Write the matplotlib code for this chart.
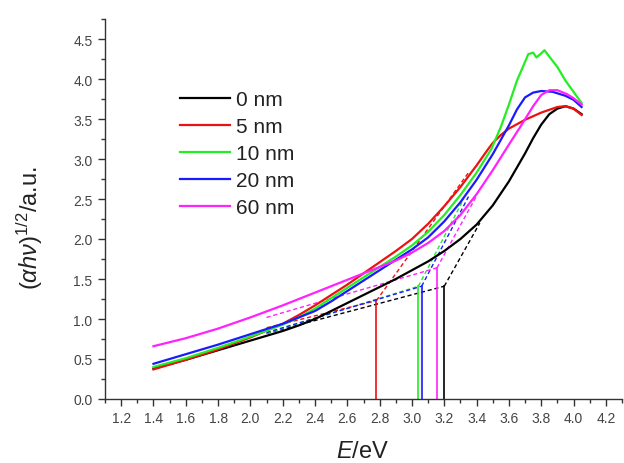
import numpy as np
import matplotlib
matplotlib.use("Agg")
import matplotlib.pyplot as plt
from matplotlib.ticker import MultipleLocator

plt.rcParams['font.family'] = ['Liberation Sans', 'DejaVu Sans']
plt.rcParams['mathtext.fontset'] = 'custom'
plt.rcParams['mathtext.rm'] = 'Liberation Sans'
plt.rcParams['mathtext.it'] = 'Liberation Sans:italic'
plt.rcParams['mathtext.bf'] = 'Liberation Sans:bold'

# ---------------- data ----------------
labels = ["0 nm", "5 nm", "10 nm", "20 nm", "60 nm"]
colors = ["#000000", "#ee1111", "#22ee22", "#1a1aff", "#ff22ff"]

E_black = [1.4, 1.6, 1.8, 2.0, 2.2, 2.3, 2.4, 2.5, 2.6, 2.7, 2.8, 2.9, 3.0, 3.1, 3.2, 3.3, 3.4, 3.5, 3.6, 3.7, 3.75, 3.8, 3.85, 3.9, 3.95, 4.0, 4.05]
y_black = [0.38, 0.49, 0.61, 0.73, 0.85, 0.92, 1.00, 1.10, 1.20, 1.30, 1.40, 1.50, 1.61, 1.72, 1.85, 2.00, 2.18, 2.42, 2.72, 3.07, 3.26, 3.43, 3.56, 3.63, 3.66, 3.63, 3.56]

E_red = [1.4, 1.6, 1.8, 2.0, 2.2, 2.3, 2.4, 2.5, 2.6, 2.7, 2.8, 2.9, 3.0, 3.1, 3.2, 3.3, 3.4, 3.47, 3.5, 3.55, 3.6, 3.7, 3.8, 3.9, 3.95, 4.0, 4.05]
y_red = [0.37, 0.49, 0.62, 0.77, 0.94, 1.05, 1.17, 1.30, 1.43, 1.57, 1.71, 1.85, 2.00, 2.19, 2.41, 2.65, 2.92, 3.12, 3.20, 3.30, 3.38, 3.49, 3.58, 3.65, 3.66, 3.63, 3.55]

E_green = [1.4, 1.6, 1.8, 2.0, 2.2, 2.3, 2.4, 2.5, 2.6, 2.7, 2.8, 2.9, 3.0, 3.1, 3.2, 3.3, 3.4, 3.49, 3.55, 3.6, 3.65, 3.68, 3.72, 3.75, 3.77, 3.80, 3.82, 3.85, 3.9, 3.95, 4.0, 4.05]
y_green = [0.40, 0.51, 0.64, 0.78, 0.93, 1.02, 1.13, 1.26, 1.39, 1.52, 1.65, 1.78, 1.92, 2.09, 2.30, 2.55, 2.83, 3.12, 3.40, 3.68, 3.98, 4.12, 4.31, 4.33, 4.27, 4.32, 4.36, 4.28, 4.15, 3.98, 3.84, 3.70]

E_blue = [1.4, 1.6, 1.8, 2.0, 2.2, 2.3, 2.4, 2.5, 2.6, 2.7, 2.8, 2.9, 3.0, 3.1, 3.2, 3.3, 3.4, 3.5, 3.6, 3.65, 3.7, 3.75, 3.8, 3.87, 3.95, 4.0, 4.05]
y_blue = [0.44, 0.56, 0.68, 0.81, 0.94, 1.02, 1.10, 1.22, 1.35, 1.48, 1.61, 1.74, 1.87, 2.02, 2.22, 2.46, 2.74, 3.06, 3.42, 3.62, 3.77, 3.83, 3.85, 3.84, 3.79, 3.74, 3.65]

E_mag = [1.4, 1.6, 1.8, 2.0, 2.2, 2.3, 2.4, 2.5, 2.6, 2.7, 2.8, 2.9, 3.0, 3.1, 3.2, 3.3, 3.4, 3.5, 3.6, 3.67, 3.75, 3.8, 3.85, 3.9, 3.96, 4.0, 4.05]
y_mag = [0.66, 0.76, 0.88, 1.02, 1.17, 1.25, 1.33, 1.41, 1.49, 1.57, 1.65, 1.73, 1.83, 1.95, 2.10, 2.30, 2.56, 2.86, 3.18, 3.40, 3.66, 3.80, 3.86, 3.86, 3.81, 3.76, 3.68]

# band-gap constructions: intersection point (Eg, y), baseline start, tangent end
gap_E = [3.20, 2.78, 3.04, 3.06, 3.155]
gap_y = [1.41, 1.23, 1.41, 1.41, 1.64]
base_start_E = [2.10, 2.10, 2.10, 2.10, 2.10]
base_start_y = [0.82, 0.89, 0.82, 0.83, 1.02]
tan_end_E = [3.42, 3.35, 3.32, 3.35, 3.40]
tan_end_y = [2.20, 2.83, 2.50, 2.53, 2.54]

xticks = [1.2, 1.4, 1.6, 1.8, 2.0, 2.2, 2.4, 2.6, 2.8, 3.0, 3.2, 3.4, 3.6, 3.8, 4.0, 4.2]
yticks = [0.0, 0.5, 1.0, 1.5, 2.0, 2.5, 3.0, 3.5, 4.0, 4.5]

# ---------------- figure ----------------
fig = plt.figure(figsize=(6.24, 4.64), dpi=100)
ax = fig.add_axes([105/624, 64/464, 517/624, 380/464])

series = [(E_black, y_black), (E_red, y_red), (E_green, y_green), (E_blue, y_blue), (E_mag, y_mag)]

for i in range(5):
    c = colors[i]
    ax.plot([base_start_E[i], gap_E[i]], [base_start_y[i], gap_y[i]], ls=(0, (3, 2)), lw=1.0, color=c, zorder=2)
    ax.plot([gap_E[i], tan_end_E[i]], [gap_y[i], tan_end_y[i]], ls=(0, (3, 2)), lw=1.0, color=c, zorder=2)
    ax.plot([gap_E[i], gap_E[i]], [0, gap_y[i]], ls='-', lw=1.2, color=c, zorder=2)

handles = []
for i, (E, y) in enumerate(series):
    h, = ax.plot(E, y, color=colors[i], lw=1.6, label=labels[i], zorder=3)
    handles.append(h)

ax.set_xlim(1.1, 4.3)
ax.set_ylim(0, 4.75)
ax.set_xticks(xticks)
ax.set_yticks(yticks)
ax.set_xticklabels([f"{t:.1f}" for t in xticks])
ax.set_yticklabels([f"{t:.1f}" for t in yticks])
ax.xaxis.set_minor_locator(MultipleLocator(0.1))
ax.yaxis.set_minor_locator(MultipleLocator(0.25))

for s in ['top', 'right']:
    ax.spines[s].set_visible(False)
for s in ['left', 'bottom']:
    ax.spines[s].set_color('#333333')
    ax.spines[s].set_linewidth(1.0)

ax.tick_params(axis='both', which='major', direction='out', length=5, width=1.0,
               colors='#333333', labelsize=10, labelcolor='#444444', pad=4)
ax.tick_params(axis='both', which='minor', direction='out', length=3, width=1.0, colors='#333333')

fig.text(363/624, 1-452/464, r"$E$/eV", fontsize=17, color='#222222', ha='center', va='center')
fig.text(30/624, 1-228/464, r"($\alpha h\nu$)$^{1/2}$/a.u.", fontsize=17, color='#222222',
         ha='center', va='center', rotation=90)

leg = ax.legend(handles=handles, loc='upper left', bbox_to_anchor=(180/624, 1-91/464),
                bbox_transform=fig.transFigure, frameon=False, fontsize=15,
                borderpad=0, borderaxespad=0, labelspacing=0.39, handlelength=2.4,
                handletextpad=0.3)
for t in leg.get_texts():
    t.set_color('#222222')

fig.savefig("out.png", dpi=100)
